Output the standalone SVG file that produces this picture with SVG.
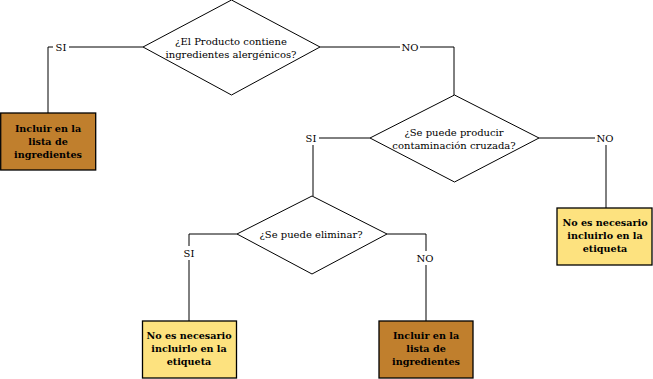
<svg xmlns="http://www.w3.org/2000/svg" width="653" height="379" viewBox="0 0 653 379">
<style>
.d{fill:#fff;stroke:#000;stroke-width:1}
.b{stroke:#000;stroke-width:1.3}
.br{fill:#C07F2D}
.ye{fill:#FDE27F}
.c{fill:none;stroke:#000;stroke-width:1}
text{font-family:"DejaVu Serif","Liberation Serif",serif;font-size:10px;fill:#000;text-anchor:middle}
.bt{font-weight:bold;font-size:9.6px}
.lb{fill:#fff}
</style>
<rect width="653" height="379" fill="#fff"/>
<g id="connectors">
<polyline class="c" points="143,47 48,47 48,113"/>
<polyline class="c" points="320,47 454,47 454,95"/>
<polyline class="c" points="370,138 313,138 313,196"/>
<polyline class="c" points="539,138 606,138 606,208"/>
<polyline class="c" points="237,234 189,234 189,321"/>
<polyline class="c" points="387,234 426,234 426,321"/>
<rect class="lb" x="53" y="40" width="16" height="14"/><text x="61" y="51">SI</text>
<rect class="lb" x="400" y="40" width="20" height="14"/><text x="410" y="51">NO</text>
<rect class="lb" x="303" y="131" width="16" height="14"/><text x="311" y="142">SI</text>
<rect class="lb" x="595" y="131" width="20" height="14"/><text x="605" y="142">NO</text>
<rect class="lb" x="182" y="246" width="16" height="14"/><text x="189" y="257">SI</text>
<rect class="lb" x="416" y="251" width="20" height="14"/><text x="425" y="262">NO</text>
</g>
<g id="q1">
<polygon class="d" points="231.5,0 320,47 231.5,95 143,47"/>
<text x="231" y="45">¿El Producto contiene</text>
<text x="231" y="58">ingredientes alergénicos?</text>
</g>
<g id="q2">
<polygon class="d" points="454.5,95 539,138 454.5,182 370,138"/>
<text x="454" y="136">¿Se puede producir</text>
<text x="454" y="149">contaminación cruzada?</text>
</g>
<g id="q3">
<polygon class="d" points="312,196 387,234 312,274 237,234"/>
<text x="311" y="238">¿Se puede eliminar?</text>
</g>
<g id="box1">
<rect class="b br" x="0.7" y="113" width="95" height="57"/>
<text class="bt" x="48" y="132">Incluir en la</text>
<text class="bt" x="48" y="145">lista de</text>
<text class="bt" x="48" y="158">ingredientes</text>
</g>
<g id="box2">
<rect class="b ye" x="557" y="208" width="95" height="57"/>
<text class="bt" x="605" y="226">No es necesario</text>
<text class="bt" x="605" y="239">incluirlo en la</text>
<text class="bt" x="605" y="252">etiqueta</text>
</g>
<g id="box3">
<rect class="b ye" x="142.5" y="321" width="94" height="57"/>
<text class="bt" x="189" y="339">No es necesario</text>
<text class="bt" x="189" y="352">incluirlo en la</text>
<text class="bt" x="189" y="365">etiqueta</text>
</g>
<g id="box4">
<rect class="b br" x="379" y="321" width="94" height="57"/>
<text class="bt" x="426" y="339">Incluir en la</text>
<text class="bt" x="426" y="352">lista de</text>
<text class="bt" x="426" y="365">ingredientes</text>
</g>
</svg>
